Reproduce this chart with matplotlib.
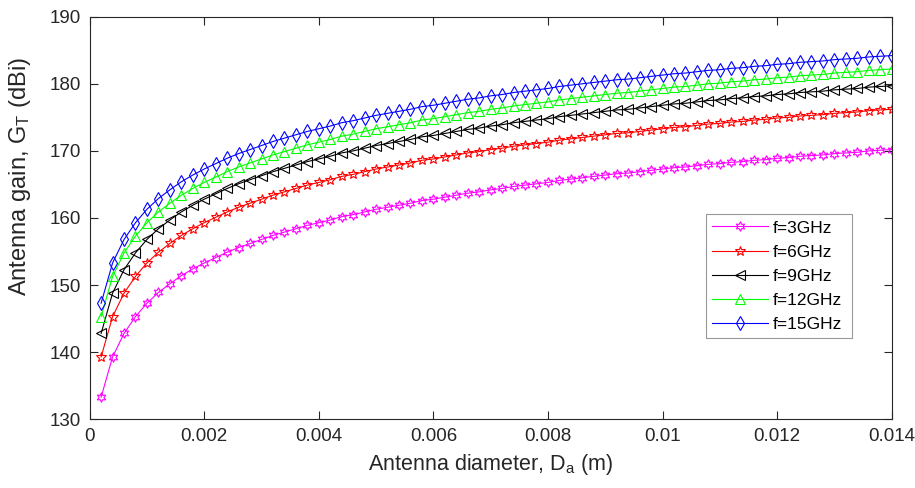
import matplotlib
matplotlib.use("Agg")
import matplotlib.pyplot as plt
import numpy as np

plt.rcParams['font.family'] = ['Liberation Sans', 'DejaVu Sans']
plt.rcParams['mathtext.default'] = 'regular'

diameter = [round(0.0002 * (i + 1), 4) for i in range(70)]

g_3ghz = [133.3, 139.3, 142.8, 145.3, 147.3, 148.9, 150.2, 151.4, 152.4, 153.3,
          154.1, 154.9, 155.6, 156.2, 156.8, 157.4, 157.9, 158.4, 158.9, 159.3,
          159.7, 160.2, 160.5, 160.9, 161.3, 161.6, 161.9, 162.2, 162.6, 162.8,
          163.1, 163.4, 163.7, 163.9, 164.2, 164.4, 164.7, 164.9, 165.1, 165.3,
          165.6, 165.8, 166.0, 166.2, 166.4, 166.6, 166.7, 166.9, 167.1, 167.3,
          167.5, 167.6, 167.8, 168.0, 168.1, 168.3, 168.4, 168.6, 168.7, 168.9,
          169.0, 169.2, 169.3, 169.4, 169.6, 169.7, 169.8, 170.0, 170.1, 170.2]
g_6ghz = [139.3, 145.3, 148.8, 151.3, 153.3, 154.9, 156.2, 157.4, 158.4, 159.3,
          160.1, 160.9, 161.6, 162.2, 162.8, 163.4, 163.9, 164.4, 164.9, 165.3,
          165.7, 166.2, 166.5, 166.9, 167.3, 167.6, 167.9, 168.2, 168.6, 168.8,
          169.1, 169.4, 169.7, 169.9, 170.2, 170.4, 170.7, 170.9, 171.1, 171.3,
          171.6, 171.8, 172.0, 172.2, 172.4, 172.6, 172.7, 172.9, 173.1, 173.3,
          173.5, 173.6, 173.8, 174.0, 174.1, 174.3, 174.4, 174.6, 174.7, 174.9,
          175.0, 175.2, 175.3, 175.4, 175.6, 175.7, 175.8, 176.0, 176.1, 176.2]
g_9ghz = [142.8, 148.8, 152.3, 154.8, 156.8, 158.4, 159.7, 160.9, 161.9, 162.8,
          163.6, 164.4, 165.1, 165.7, 166.3, 166.9, 167.4, 167.9, 168.4, 168.8,
          169.2, 169.7, 170.0, 170.4, 170.8, 171.1, 171.4, 171.7, 172.1, 172.3,
          172.6, 172.9, 173.2, 173.4, 173.7, 173.9, 174.2, 174.4, 174.6, 174.8,
          175.1, 175.3, 175.5, 175.7, 175.9, 176.1, 176.2, 176.4, 176.6, 176.8,
          177.0, 177.1, 177.3, 177.5, 177.6, 177.8, 177.9, 178.1, 178.2, 178.4,
          178.5, 178.7, 178.8, 178.9, 179.1, 179.2, 179.3, 179.5, 179.6, 179.7]
g_12ghz = [145.3, 151.3, 154.8, 157.3, 159.3, 160.9, 162.2, 163.4, 164.4, 165.3,
           166.1, 166.9, 167.6, 168.2, 168.8, 169.4, 169.9, 170.4, 170.9, 171.3,
           171.7, 172.2, 172.5, 172.9, 173.3, 173.6, 173.9, 174.2, 174.6, 174.8,
           175.1, 175.4, 175.7, 175.9, 176.2, 176.4, 176.7, 176.9, 177.1, 177.3,
           177.6, 177.8, 178.0, 178.2, 178.4, 178.6, 178.7, 178.9, 179.1, 179.3,
           179.5, 179.6, 179.8, 180.0, 180.1, 180.3, 180.4, 180.6, 180.7, 180.9,
           181.0, 181.2, 181.3, 181.4, 181.6, 181.7, 181.8, 182.0, 182.1, 182.2]
g_15ghz = [147.3, 153.3, 156.8, 159.3, 161.3, 162.9, 164.2, 165.4, 166.4, 167.3,
           168.1, 168.9, 169.6, 170.2, 170.8, 171.4, 171.9, 172.4, 172.9, 173.3,
           173.7, 174.2, 174.5, 174.9, 175.3, 175.6, 175.9, 176.2, 176.6, 176.8,
           177.1, 177.4, 177.7, 177.9, 178.2, 178.4, 178.7, 178.9, 179.1, 179.3,
           179.6, 179.8, 180.0, 180.2, 180.4, 180.6, 180.7, 180.9, 181.1, 181.3,
           181.5, 181.6, 181.8, 182.0, 182.1, 182.3, 182.4, 182.6, 182.7, 182.9,
           183.0, 183.2, 183.3, 183.4, 183.6, 183.7, 183.8, 184.0, 184.1, 184.2]

labels = ['f=3GHz', 'f=6GHz', 'f=9GHz', 'f=12GHz', 'f=15GHz']
series = [g_3ghz, g_6ghz, g_9ghz, g_12ghz, g_15ghz]
colors = ['#ff00ff', '#ff0000', '#000000', '#00ff00', '#0000ff']
markers = [(6, 1, 0), '*', '<', '^', 'd']
msizes = [7, 7, 7, 7, 7]

xticks = [0, 0.002, 0.004, 0.006, 0.008, 0.01, 0.012, 0.014]
xticklabels = ['0', '0.002', '0.004', '0.006', '0.008', '0.01', '0.012', '0.014']
yticks = [130, 140, 150, 160, 170, 180, 190]

fig = plt.figure(figsize=(9.15, 4.88), dpi=100)
ax = fig.add_axes([0.098, 0.1408, 0.8765, 0.825])

for y, lab, c, m, ms in zip(series, labels, colors, markers, msizes):
    ax.plot(diameter, y, color=c, marker=m, markersize=ms, markerfacecolor='none',
            markeredgecolor=c, markeredgewidth=0.8, linewidth=0.8, label=lab)

ax.set_xlim(0, 0.014)
ax.set_ylim(130, 190)
ax.set_xticks(xticks)
ax.set_xticklabels(xticklabels)
ax.set_yticks(yticks)
ax.tick_params(direction='in', length=6, width=0.8, top=True, right=True,
               labelsize=13.5, colors='#262626')
ax.tick_params(axis='x', pad=6)
ax.tick_params(axis='y', pad=6)
for s in ax.spines.values():
    s.set_linewidth(0.8)
    s.set_color('#262626')

ax.set_xlabel('Antenna diameter, D$_a$ (m)', fontsize=15.5, color='#262626', labelpad=5)
ax.set_ylabel('Antenna gain, G$_T$ (dBi)', fontsize=17, color='#262626')
ax.yaxis.set_label_coords(-0.0707, 0.603)

leg = ax.legend(loc='lower left', bbox_to_anchor=(0.769, 0.201, 0.181, 0.309),
                mode='expand', fontsize=12.5, frameon=True, fancybox=False,
                handlelength=3.2, borderaxespad=0, labelspacing=0.52,
                handletextpad=0.3, borderpad=0.35)
leg.get_frame().set_edgecolor('#7f7f7f')
leg.get_frame().set_linewidth(0.8)

fig.savefig('out.png', dpi=100)
